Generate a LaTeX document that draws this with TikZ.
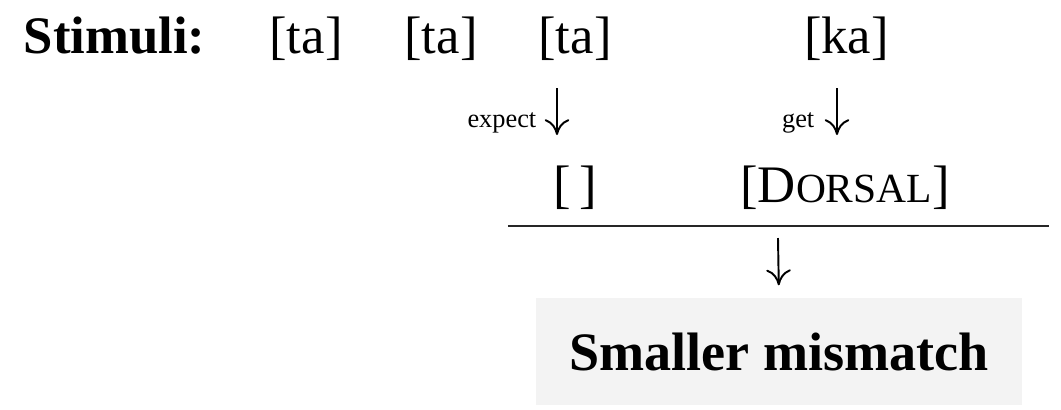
\documentclass[tikz,border=0pt]{standalone}
\usepackage{fontspec}
\setmainfont{Liberation Serif}
\usetikzlibrary{arrows.meta}
\definecolor{boxgray}{RGB}{243,243,243}
\newcommand{\fakesc}[1]{{\fontsize{11.8}{14}\selectfont #1}}
\tikzset{
    stimulus/.style={
        anchor=base,
        inner sep=0pt,
        font=\fontsize{15}{18}\selectfont
    },
    cue/.style={
        anchor=base east,
        inner sep=0pt,
        font=\fontsize{7.5}{9}\selectfont
    },
    flow/.style={
        -{Computer Modern Rightarrow[length=4.5pt,width=7pt]},
        line width=0.55pt
    },
    result/.style={
        fill=boxgray,
        minimum width=4.86cm,
        minimum height=1.07cm,
        font=\bfseries\fontsize{15.4}{18}\selectfont
    }
}
\begin{document}
\begin{tikzpicture}
                \useasboundingbox (0,0) rectangle (10.61,-4.09);
                % top row
                \node [stimulus, anchor=base west, font=\bfseries\fontsize{15}{18}\selectfont] (stim) at (0.23,-0.53) {Stimuli:};
                \node [stimulus] (ta1) at (3.06,-0.53) {[ta]};
                \node [stimulus] (ta2) at (4.41,-0.53) {[ta]};
                \node [stimulus] (ta3) at (5.75,-0.53) {[ta]};
                \node [stimulus] (ka) at (8.465,-0.53) {[ka]};
                % expect / get
                \coordinate (E1) at (5.57,-0.88);
                \coordinate (E2) at (5.57,-1.35);
                \coordinate (G1) at (8.37,-0.88);
                \coordinate (G2) at (8.37,-1.35);
                \node [cue] (expect) at (5.37,-1.27) {expect};
                \node [cue] (get) at (8.15,-1.27) {get};
                \draw [flow] (E1) -- (E2);
                \draw [flow] (G1) -- (G2);
                % features
                \node [stimulus] (empty) at (5.755,-2.02) {[\,]};
                \node [stimulus] (dorsal) at (8.45,-2.02) {[D\fakesc{ORSAL}]};
                \coordinate (R1) at (5.08,-2.26);
                \coordinate (R2) at (10.49,-2.26);
                \draw [line width=0.8pt, black!85] (R1) -- (R2);
                % outcome
                \node [result] (mismatch) at (7.79,-3.515) {Smaller mismatch};
                \coordinate (M1) at (7.78,-2.38);
                \draw [flow, shorten >=0.12cm] (M1) -- (mismatch.north);
            \end{tikzpicture}
\end{document}
